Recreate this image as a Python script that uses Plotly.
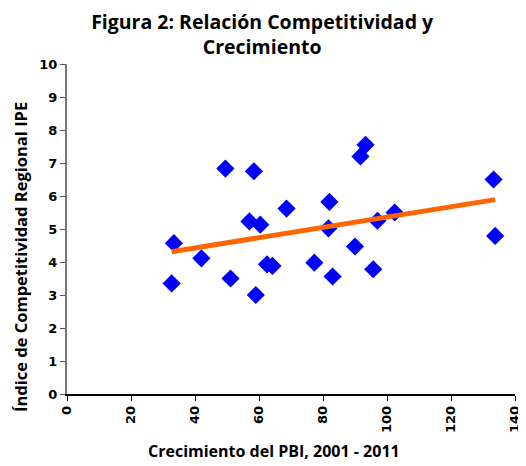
import numpy as np
import plotly.graph_objects as go

# Crecimiento del PBI 2001-2011 vs Indice de Competitividad Regional
crecimiento = [33.4, 32.7, 42.0, 49.5, 51.1, 58.4, 57.0, 60.4, 59.0, 62.5,
               64.2, 68.6, 82.0, 81.7, 77.3, 83.0, 90.0, 91.7, 93.3, 97.0,
               95.7, 102.4, 133.3, 133.8]
ipe = [4.57, 3.35, 4.11, 6.83, 3.50, 6.75, 5.23, 5.13, 3.00, 3.93,
       3.88, 5.62, 5.82, 5.02, 3.98, 3.56, 4.47, 7.20, 7.55, 5.25,
       3.78, 5.50, 6.50, 4.79]

x_ticks = [0, 20, 40, 60, 80, 100, 120, 140]
y_ticks = list(range(0, 11))

TITLE_FONT = "'Open Sans', 'DejaVu Sans', sans-serif"
TICK_FONT = "'DejaVu Sans', sans-serif"

# linear trend through the points
m, b = np.polyfit(crecimiento, ipe, 1)
tx = [min(crecimiento), max(crecimiento)]
ty = [m * v + b for v in tx]

fig = go.Figure()
fig.add_trace(go.Scatter(
    x=crecimiento, y=ipe, mode="markers",
    marker=dict(symbol="diamond", size=14, color="#0000FF"),
    showlegend=False,
))
fig.add_trace(go.Scatter(
    x=tx, y=ty, mode="lines",
    line=dict(color="#FF6600", width=5),
    showlegend=False,
))

fig.update_layout(
    width=524, height=458,
    margin=dict(l=59, r=10, t=56, b=72),
    paper_bgcolor="white", plot_bgcolor="white",
    font=dict(family=TITLE_FONT, color="black"),
    title=dict(
        text="<b>Figura 2: Relación Competitividad y<br>Crecimiento</b>",
        x=0.485, xanchor="center", y=0.955, yanchor="middle", yref="container",
        font=dict(size=19.5, family=TITLE_FONT),
    ),
)
# axis titles sit off-centre in the original, so place them as annotations
fig.add_annotation(
    text="<b>Crecimiento del PBI, 2001 - 2011</b>",
    xref="paper", yref="paper", x=0.462, y=0, yshift=-57,
    xanchor="center", yanchor="middle", showarrow=False,
    font=dict(size=16, family=TITLE_FONT),
)
fig.add_annotation(
    text="<b>Índice de Competitividad Regional IPE</b>",
    xref="paper", yref="paper", x=0, y=0.415, xshift=-47, textangle=-90,
    xanchor="center", yanchor="middle", showarrow=False,
    font=dict(size=16.5, family=TITLE_FONT),
)
fig.update_xaxes(
    range=[0, 140], tickvals=x_ticks, ticktext=[f"<b>{v}</b>" for v in x_ticks],
    tickangle=-90, tickfont=dict(size=13, family=TICK_FONT), ticks="outside", ticklen=5,
    ticklabeloverflow="allow",
    tickcolor="black", showline=True, linecolor="black", linewidth=1.5,
    showgrid=False, zeroline=False,
)
fig.update_yaxes(
    range=[0, 10], tickvals=y_ticks, ticktext=[f"<b>{v}</b>" for v in y_ticks],
    tickfont=dict(size=13, family=TICK_FONT), ticks="outside", ticklen=5,
    tickcolor="#555555", showline=True, linecolor="#777777", linewidth=2,
    showgrid=False, zeroline=False,
)

fig.write_html("out.html")
